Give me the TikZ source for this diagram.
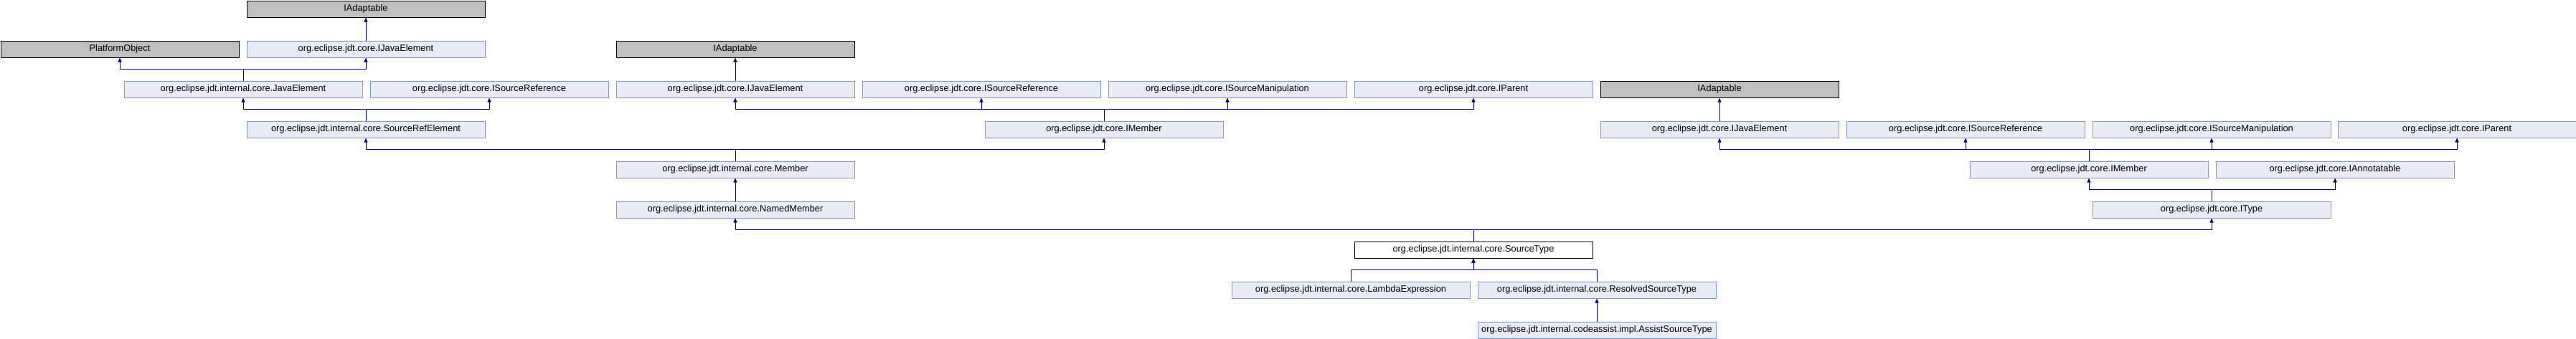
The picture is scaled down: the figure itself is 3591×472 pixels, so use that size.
\documentclass[tikz,border=0pt]{standalone}
\usepackage{fontspec}
\setmainfont{Liberation Sans}
\usetikzlibrary{arrows.meta}
\definecolor{boxfill}{RGB}{232,236,245}
\definecolor{boxdraw}{RGB}{128,152,206}
\definecolor{extfill}{RGB}{191,191,191}
\definecolor{edgecol}{RGB}{0,0,135}
\tikzset{
  cls/.style={draw=boxdraw, fill=boxfill, line width=1pt, minimum width=332pt, minimum height=23pt,
    inner sep=0pt, anchor=north west, font=\fontsize{12.8}{14}\selectfont, text=black},
  ext/.style={cls, draw=black, fill=extfill},
  cur/.style={cls, draw=black, fill=white},
  edge/.style={draw=edgecol, line width=1pt, -{Triangle[width=5pt,length=6pt]}}
}
\begin{document}
\begin{tikzpicture}[x=1pt,y=-1pt]
\useasboundingbox (0,0) rectangle (3591,472);
% row 0
\node[ext] (IA1) at (343.5,0.5) {IAdaptable};
% row 1
\node[ext] (PO) at (0.5,56.5) {PlatformObject};
\node[cls] (IJE1) at (343.5,56.5) {org.eclipse.jdt.core.IJavaElement};
\node[ext] (IA2) at (858.5,56.5) {IAdaptable};
% row 2
\node[cls] (JE) at (172.5,112.5) {org.eclipse.jdt.internal.core.JavaElement};
\node[cls] (ISR1) at (515.5,112.5) {org.eclipse.jdt.core.ISourceReference};
\node[cls] (IJE2) at (858.5,112.5) {org.eclipse.jdt.core.IJavaElement};
\node[cls] (ISR2) at (1201.5,112.5) {org.eclipse.jdt.core.ISourceReference};
\node[cls] (ISM2) at (1544.5,112.5) {org.eclipse.jdt.core.ISourceManipulation};
\node[cls] (IP2) at (1887.5,112.5) {org.eclipse.jdt.core.IParent};
\node[ext] (IA3) at (2230.5,112.5) {IAdaptable};
% row 3
\node[cls] (SRE) at (343.5,168.5) {org.eclipse.jdt.internal.core.SourceRefElement};
\node[cls] (IM2) at (1372.5,168.5) {org.eclipse.jdt.core.IMember};
\node[cls] (IJE3) at (2230.5,168.5) {org.eclipse.jdt.core.IJavaElement};
\node[cls] (ISR3) at (2573.5,168.5) {org.eclipse.jdt.core.ISourceReference};
\node[cls] (ISM3) at (2916.5,168.5) {org.eclipse.jdt.core.ISourceManipulation};
\node[cls] (IP3) at (3258.5,168.5) {org.eclipse.jdt.core.IParent};
% row 4
\node[cls] (Mem) at (858.5,224.5) {org.eclipse.jdt.internal.core.Member};
\node[cls] (IM3) at (2745.5,224.5) {org.eclipse.jdt.core.IMember};
\node[cls] (IAn) at (3088.5,224.5) {org.eclipse.jdt.core.IAnnotatable};
% row 5
\node[cls] (NM) at (858.5,280.5) {org.eclipse.jdt.internal.core.NamedMember};
\node[cls] (IT) at (2916.5,280.5) {org.eclipse.jdt.core.IType};
% row 6
\node[cur] (ST) at (1887.5,336.5) {org.eclipse.jdt.internal.core.SourceType};
% row 7
\node[cls] (LE) at (1716.5,392.5) {org.eclipse.jdt.internal.core.LambdaExpression};
\node[cls] (RST) at (2059.5,392.5) {org.eclipse.jdt.internal.core.ResolvedSourceType};
% row 8
\node[cls] (AST) at (2059.5,448.5) {org.eclipse.jdt.internal.codeassist.impl.AssistSourceType};

% edges
\draw[edge] (IJE1.north) -- (IA1.south);
\draw[edge] (JE.north) -- ++(0,-16) -| (PO.south);
\draw[edge] (JE.north) -- ++(0,-16) -| (IJE1.south);
\draw[edge] (SRE.north) -- ++(0,-16) -| (JE.south);
\draw[edge] (SRE.north) -- ++(0,-16) -| (ISR1.south);
\draw[edge] (IJE2.north) -- (IA2.south);
\draw[edge] (IM2.north) -- ++(0,-16) -| (IJE2.south);
\draw[edge] (IM2.north) -- ++(0,-16) -| (ISR2.south);
\draw[edge] (IM2.north) -- ++(0,-16) -| (ISM2.south);
\draw[edge] (IM2.north) -- ++(0,-16) -| (IP2.south);
\draw[edge] (Mem.north) -- ++(0,-16) -| (SRE.south);
\draw[edge] (Mem.north) -- ++(0,-16) -| (IM2.south);
\draw[edge] (NM.north) -- (Mem.south);
\draw[edge] (ST.north) -- ++(0,-16) -| (NM.south);
\draw[edge] (ST.north) -- ++(0,-16) -| (IT.south);
\draw[edge] (IJE3.north) -- (IA3.south);
\draw[edge] (IM3.north) -- ++(0,-16) -| (IJE3.south);
\draw[edge] (IM3.north) -- ++(0,-16) -| (ISR3.south);
\draw[edge] (IM3.north) -- ++(0,-16) -| (ISM3.south);
\draw[edge] (IM3.north) -- ++(0,-16) -| (IP3.south);
\draw[edge] (IT.north) -- ++(0,-16) -| (IM3.south);
\draw[edge] (IT.north) -- ++(0,-16) -| (IAn.south);
\draw[edge] (LE.north) -- ++(0,-16) -| (ST.south);
\draw[edge] (RST.north) -- ++(0,-16) -| (ST.south);
\draw[edge] (AST.north) -- (RST.south);
\end{tikzpicture}
\end{document}
